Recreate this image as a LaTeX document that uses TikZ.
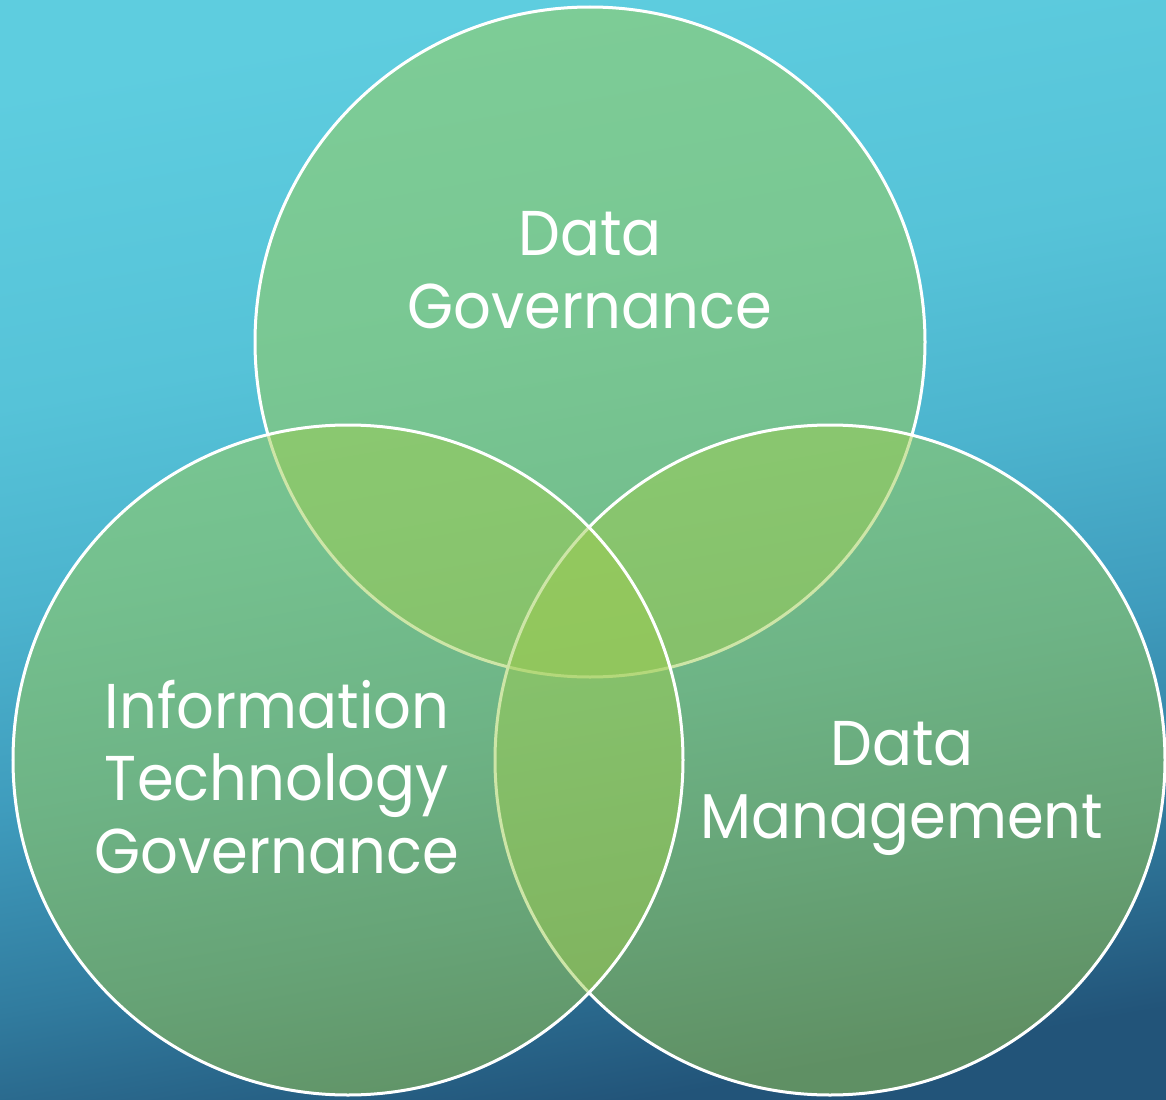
\documentclass[tikz,border=0pt]{standalone}
\usepackage{fontspec}
\setmainfont{Poppins}[FakeStretch = 0.935]
\usetikzlibrary{positioning}
\definecolor{bgtop}{RGB}{94,205,223}
\definecolor{bgone}{RGB}{86,195,216}
\definecolor{bgtwo}{RGB}{76,180,206}
\definecolor{bgthree}{RGB}{63,156,189}
\definecolor{bgfour}{RGB}{49,124,159}
\definecolor{bgfive}{RGB}{34,84,121}
\definecolor{leafgreen}{RGB}{157,204,80}
\pgfdeclareverticalshading{backdrop}{100bp}{color(0bp)=(bgfive); color(25bp)=(bgfive); color(34bp)=(bgfour); color(43bp)=(bgthree); color(52bp)=(bgtwo); color(61bp)=(bgone); color(75bp)=(bgtop); color(100bp)=(bgtop)}
\tikzset{venn/.style = {fill = leafgreen, fill opacity = 0.5, draw = white, line width = 0.03cm}}
\tikzset{caption/.style = {text = white, align = center, anchor = base,
                           font = \fontsize{18}{20.5}\selectfont}}

\begin{document}
\begin{tikzpicture}[x = 0.01cm, y = 0.01cm]
  \useasboundingbox (0, 0) rectangle (1166, -1100);
  \shade [shading = backdrop, shading angle = 10] (0, 0) rectangle (1166, -1100);
  \coordinate (gov) at (590, -342);
  \coordinate (mgmt) at (830, -760);
  \coordinate (itgov) at (348, -760);
  \draw [venn] (gov) circle [radius = 335];
  \draw [venn] (mgmt) circle [radius = 335];
  \draw [venn] (itgov) circle [radius = 335];
  % base anchor sits on the last line
  \node [caption] (govtext) at (590, -328) {Data\\Governance};
  \node [caption] (mgmttext) at (902, -838) {Data\\Management};
  \node [caption] (itgovtext) at (277, -873) {Information\\Technology\\Governance};
\end{tikzpicture}
\end{document}
